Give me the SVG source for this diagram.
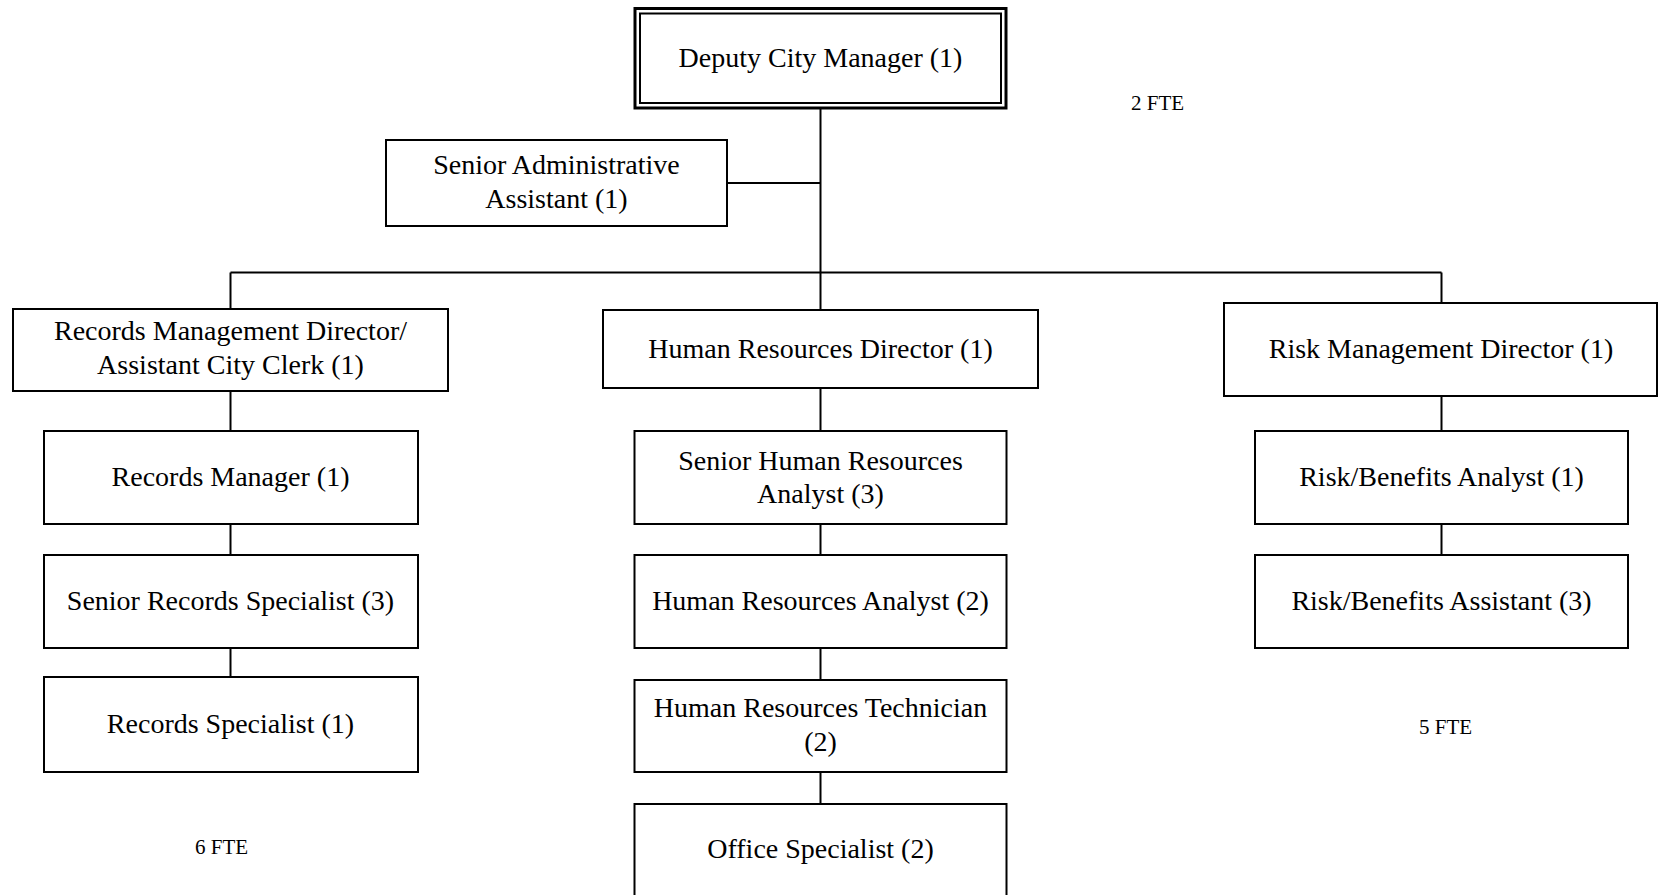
<svg xmlns="http://www.w3.org/2000/svg" width="1658" height="895" viewBox="0 0 1658 895">
<style>
  .box { fill: #ffffff; stroke: #000000; stroke-width: 2; }
  .outer { fill: #ffffff; stroke: #000000; stroke-width: 3; }
  .inner { fill: none; stroke: #000000; stroke-width: 2; }
  .lbl { font-family: "Liberation Serif", "Times New Roman", serif; font-size: 28px; fill: #000000; text-anchor: middle; }
  .fte { font-family: "Liberation Serif", "Times New Roman", serif; font-size: 21px; fill: #000000; text-anchor: middle; }
  .conn line { stroke: #000000; stroke-width: 2; }
</style>
<rect x="0" y="0" width="1658" height="895" fill="#ffffff"/>
<g id="connectors" class="conn">
  <line x1="820.5" y1="108" x2="820.5" y2="310"/>
  <line x1="727" y1="183" x2="820.5" y2="183"/>
  <line x1="230.5" y1="272.5" x2="1441.5" y2="272.5"/>
  <line x1="230.5" y1="272.5" x2="230.5" y2="309"/>
  <line x1="1441.5" y1="272.5" x2="1441.5" y2="303"/>
  <line x1="230.5" y1="391" x2="230.5" y2="431"/>
  <line x1="230.5" y1="524" x2="230.5" y2="555"/>
  <line x1="230.5" y1="648" x2="230.5" y2="677"/>
  <line x1="820.5" y1="388" x2="820.5" y2="431"/>
  <line x1="820.5" y1="524" x2="820.5" y2="555"/>
  <line x1="820.5" y1="648" x2="820.5" y2="680"/>
  <line x1="820.5" y1="772" x2="820.5" y2="804"/>
  <line x1="1441.5" y1="396" x2="1441.5" y2="431"/>
  <line x1="1441.5" y1="524" x2="1441.5" y2="555"/>
</g>
<g id="deputy-city-manager">
  <rect class="outer" x="635" y="8.5" width="371" height="99.5"/>
  <rect class="inner" x="640" y="13.5" width="361" height="89.5"/>
  <text class="lbl" x="820.5" y="67">Deputy City Manager (1)</text>
</g>
<g id="senior-admin-assistant">
  <rect class="box" x="386" y="140" width="341" height="86"/>
  <text class="lbl" x="556.5" y="174">Senior Administrative</text>
  <text class="lbl" x="556.5" y="208">Assistant (1)</text>
</g>
<g id="records-mgmt-director">
  <rect class="box" x="13" y="309" width="435" height="82"/>
  <text class="lbl" x="230.5" y="340">Records Management Director/</text>
  <text class="lbl" x="230.5" y="374">Assistant City Clerk (1)</text>
</g>
<g id="hr-director">
  <rect class="box" x="603" y="310" width="435" height="78"/>
  <text class="lbl" x="820.5" y="358">Human Resources Director (1)</text>
</g>
<g id="risk-mgmt-director">
  <rect class="box" x="1224" y="303" width="433" height="93"/>
  <text class="lbl" x="1441" y="358">Risk Management Director (1)</text>
</g>
<g id="records-manager">
  <rect class="box" x="44" y="431" width="374" height="93"/>
  <text class="lbl" x="230.5" y="486">Records Manager (1)</text>
</g>
<g id="senior-records-specialist">
  <rect class="box" x="44" y="555" width="374" height="93"/>
  <text class="lbl" x="230.5" y="610">Senior Records Specialist (3)</text>
</g>
<g id="records-specialist">
  <rect class="box" x="44" y="677" width="374" height="95"/>
  <text class="lbl" x="230.5" y="733">Records Specialist (1)</text>
</g>
<g id="senior-hr-analyst">
  <rect class="box" x="634.5" y="431" width="372" height="93"/>
  <text class="lbl" x="820.5" y="470">Senior Human Resources</text>
  <text class="lbl" x="820.5" y="503">Analyst (3)</text>
</g>
<g id="hr-analyst">
  <rect class="box" x="634.5" y="555" width="372" height="93"/>
  <text class="lbl" x="820.5" y="610">Human Resources Analyst (2)</text>
</g>
<g id="hr-technician">
  <rect class="box" x="634.5" y="680" width="372" height="92"/>
  <text class="lbl" x="820.5" y="717">Human Resources Technician</text>
  <text class="lbl" x="820.5" y="751">(2)</text>
</g>
<g id="office-specialist">
  <rect class="box" x="634.5" y="804" width="372" height="110"/>
  <text class="lbl" x="820.5" y="858">Office Specialist (2)</text>
</g>
<g id="risk-benefits-analyst">
  <rect class="box" x="1255" y="431" width="373" height="93"/>
  <text class="lbl" x="1441.5" y="486">Risk/Benefits Analyst (1)</text>
</g>
<g id="risk-benefits-assistant">
  <rect class="box" x="1255" y="555" width="373" height="93"/>
  <text class="lbl" x="1441.5" y="610">Risk/Benefits Assistant (3)</text>
</g>
<g id="fte-labels">
  <text class="fte" x="1157.5" y="110">2 FTE</text>
  <text class="fte" x="221.5" y="854">6 FTE</text>
  <text class="fte" x="1445.5" y="734">5 FTE</text>
</g>
</svg>
